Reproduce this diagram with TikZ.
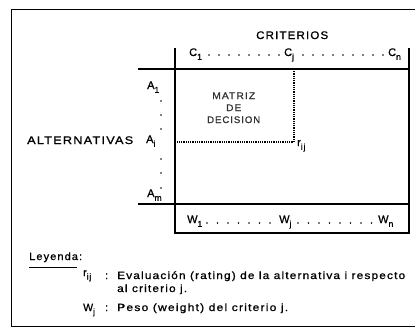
\documentclass[tikz,border=0pt]{standalone}
\usepackage{graphicx}
\usepackage{fontspec}
\setmainfont{Liberation Sans}[LetterSpace=10, FakeBold=1]
\usetikzlibrary{positioning}

\newcommand\idx[1]{\raisebox{-.65ex}{\fontsize{8.5}{9}\selectfont #1}}
\newcommand\fitw[2]{\resizebox{#1}{\height}{#2}}

\begin{document}
\begin{tikzpicture}[x=1pt, y=-1pt, every node/.style={inner sep=0pt, anchor=base west},
    big/.style={font=\fontsize{11}{12}\selectfont},
    small/.style={font=\fontsize{9.5}{12.5}\selectfont, align=center, text=black!80},
    legtext/.style={font=\fontsize{10.5}{13}\selectfont},
    grid/.style={line width=1.1pt},
    subpath/.style={line width=1.1pt, dash pattern=on .9pt off .9pt}]
  \useasboundingbox (0,0) rectangle (415,327);
  % marco
  \draw[line width=1pt] (415,9) -- (11,9) -- (11,326) -- (415,326);

  % ejes de la matriz
  \coordinate (top) at (175,48);
  \coordinate (bot) at (175,233);
  \coordinate (topr) at (409,48);
  \coordinate (botr) at (409,233);
  \coordinate (hdl) at (138,69);
  \coordinate (hdr) at (409,69);
  \coordinate (aml) at (138,204);
  \coordinate (amr) at (409,204);
  \draw[grid] (top) -- (bot) -- (botr) -- (topr);
  \draw[grid] (hdl) -- (hdr);
  \draw[grid] (aml) -- (amr);

  % criterios
  \node[big] (crit) at (256,39) {\fitw{72pt}{CRITERIOS}};
  \node[big] (c1) at (189,56) {C\idx{1}};
  \node[big] (cj) at (284,56) {C\idx{j}};
  \node[big] (cn) at (388,56) {C\idx{n}};
  \foreach \k in {0,...,7}
    \fill (209+10*\k,55) circle (.85);
  \foreach \k in {0,...,8}
    \fill (303+10*\k,55) circle (.85);

  % alternativas
  \node[big] (alt) at (27,144) {\fitw{106pt}{ALTERNATIVAS}};
  \node[big] (a1) at (147,89) {A\idx{1}};
  \node[big] (ai) at (146,143) {A\idx{i}};
  \node[big] (am) at (147,197) {A\idx{m}};
  \foreach \y in {101,115,129,159,173,188}
    \fill (161,\y) circle (.85);

  % submatriz
  \coordinate (cjl) at (294,69);
  \coordinate (rij) at (294,142);
  \coordinate (ail) at (177,142);
  \draw[subpath] (cjl) -- (rij) -- (ail);
  \node[big] (r) at (297,146) {r\idx{ij}};
  \node[small] (mat1) at (212,99) {\fitw{43pt}{MATRIZ}};
  \node[small] (mat2) at (226,111) {\fitw{15pt}{DE}};
  \node[small] (mat3) at (207,123) {\fitw{53pt}{DECISION}};

  % pesos
  \node[big] (w1) at (187,223) {W\idx{1}};
  \node[big] (wj) at (279,223) {W\idx{j}};
  \node[big] (wn) at (378,223) {W\idx{n}};
  \foreach \k in {0,...,6}
    \fill (207+10.5*\k,223) circle (.85);
  \foreach \k in {0,...,7}
    \fill (298+10.5*\k,223) circle (.85);

  % leyenda
  \node[legtext] (ley) at (29,260) {\fitw{53pt}{Leyenda:}};
  \draw[line width=1pt] (29,267) -- (77,267);
  \node[legtext] (rk) at (83,276) {r\idx{ij}};
  \node[legtext] (rc) at (105,279) {:};
  \node[legtext] (ev1) at (117,279) {\fitw{288pt}{Evaluación (rating) de la alternativa i respecto}};
  \node[legtext] (ev2) at (117,292) {\fitw{70pt}{al criterio j.}};
  \node[legtext] (wk) at (83,311) {W\idx{j}};
  \node[legtext] (wc) at (105,311) {:};
  \node[legtext] (pe) at (117,311) {\fitw{171pt}{Peso (weight) del criterio j.}};
\end{tikzpicture}
\end{document}
